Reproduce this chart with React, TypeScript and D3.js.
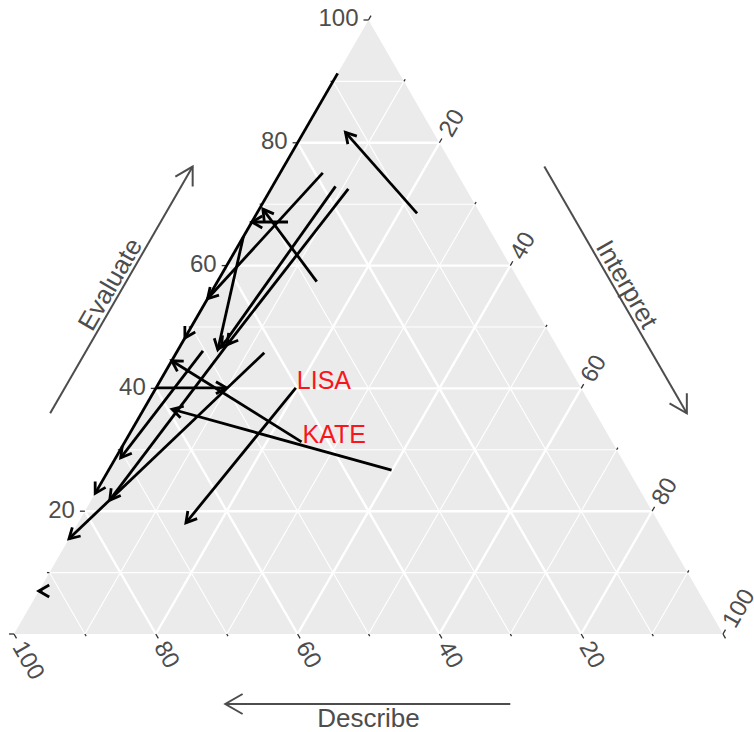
import React from "react";
import * as d3 from "d3";

const width = 754;
const height = 732;

// triangle frame
const left = 14;
const right = 723;
const bottom = 634;
const top = bottom - ((right - left) * Math.sqrt(3)) / 2;

// arrow segments, percent (Describe, Evaluate, Interpret)
const fromDescribe = [8.9, 8.7, 51.8, 27.8, 28.6, 18.9, 35.3, 18.2, 16.6, 46.4, 43.8, 59.9, 41.8, 50.3, 33.4, 40.2, 92.5];
const fromEvaluate = [68.5, 91.3, 48.2, 67.1, 57.4, 75.1, 64.7, 72.9, 72.5, 47.1, 31.3, 40.1, 45.8, 46.1, 26.7, 40.1, 7.0];
const fromInterpret = [22.6, 0, 0, 5.1, 14.0, 6.0, 0, 8.9, 10.9, 6.5, 24.9, 0, 12.4, 3.6, 39.9, 19.7, 0.5];
const toDescribe = [12.4, 51.8, 77.1, 32.9, 30.3, 45.4, 48.1, 47.4, 46.4, 75.6, 55.5, 50.0, 84.5, 70.6, 59.4, 66.7, 93.0];
const toEvaluate = [81.7, 48.2, 22.9, 67.1, 69.2, 54.6, 46.3, 46.7, 47.1, 21.8, 44.5, 40.1, 15.5, 28.7, 36.6, 18.1, 7.0];
const toInterpret = [5.9, 0, 0, 0, 0.5, 0, 5.6, 5.9, 6.5, 2.6, 0, 9.9, 0, 0.7, 4.0, 15.2, 0];

// point labels
const labelText = ["LISA", "KATE"];
const labelDescribe = [40.2, 43.8];
const labelEvaluate = [40.1, 31.3];
const labelInterpret = [19.7, 24.9];

const gridValues = [10, 20, 30, 40, 50, 60, 70, 80, 90];
const tickValues = [0, 10, 20, 30, 40, 50, 60, 70, 80, 90, 100];
const tickLabels = [20, 40, 60, 80, 100];

const xScale = d3.scaleLinear().domain([0, 100]).range([left, right]);
const yScale = d3.scaleLinear().domain([0, 100]).range([bottom, top]);

const pt = (d: number, e: number, i: number): [number, number] => {
    const s = d + e + i;
    const ee = (e * 100) / s;
    const ii = (i * 100) / s;
    return [xScale(ii + ee / 2), yScale(ee)];
};

const font = "'Liberation Sans', Arial, Helvetica, sans-serif";
const textColor = "#4d4d4d";
const s3 = Math.sqrt(3) / 2;

const arrowHead = (x1: number, y1: number, x2: number, y2: number, len: number) => {
    const a = Math.atan2(y2 - y1, x2 - x1);
    const w = Math.PI / 6;
    const p1 = [x2 - len * Math.cos(a - w), y2 - len * Math.sin(a - w)];
    const p2 = [x2 - len * Math.cos(a + w), y2 - len * Math.sin(a + w)];
    return `M${p1[0]},${p1[1]}L${x2},${y2}L${p2[0]},${p2[1]}`;
};

const App = () => {
    const [tx, ty] = pt(0, 100, 0);
    const [lx, ly] = pt(100, 0, 0);
    const [rx, ry] = pt(0, 0, 100);

    // axis arrows along the edges, offset outward
    const edgePoint = (a: [number, number], b: [number, number], t: number, nx: number, ny: number, off: number) => [
        a[0] + (b[0] - a[0]) * t + nx * off,
        a[1] + (b[1] - a[1]) * t + ny * off,
    ];
    const evA = edgePoint([lx, ly], [tx, ty], 0.295, -s3, -0.5, 79);
    const evB = edgePoint([lx, ly], [tx, ty], 0.697, -s3, -0.5, 79);
    const inA = edgePoint([tx, ty], [rx, ry], 0.303, s3, -0.5, 79);
    const inB = edgePoint([tx, ty], [rx, ry], 0.705, s3, -0.5, 79);
    const deA = edgePoint([lx, ly], [rx, ry], 0.7, 0, 1, 70);
    const deB = edgePoint([lx, ly], [rx, ry], 0.298, 0, 1, 70);
    const evT = edgePoint([lx, ly], [tx, ty], 0.495, -s3, -0.5, 83);
    const inT = edgePoint([tx, ty], [rx, ry], 0.505, s3, -0.5, 83);

    return (
        <svg width={width} height={height} style={{ position: "absolute", left: 0, top: 0 }}>
            <rect width={width} height={height} fill="white" />
            <path d={`M${lx},${ly}L${tx},${ty}L${rx},${ry}Z`} fill="#ebebeb" />

            {gridValues.map((v) => {
                const major = v % 20 === 0;
                const sw = major ? 2.4 : 1.1;
                const e1 = pt(100 - v, v, 0), e2 = pt(0, v, 100 - v);
                const d1 = pt(v, 0, 100 - v), d2 = pt(v, 100 - v, 0);
                const i1 = pt(100 - v, 0, v), i2 = pt(0, 100 - v, v);
                return (
                    <g key={v} stroke="white" strokeWidth={sw}>
                        <line x1={e1[0]} y1={e1[1]} x2={e2[0]} y2={e2[1]} />
                        <line x1={d1[0]} y1={d1[1]} x2={d2[0]} y2={d2[1]} />
                        <line x1={i1[0]} y1={i1[1]} x2={i2[0]} y2={i2[1]} />
                    </g>
                );
            })}

            {tickValues.map((v) => {
                const len = v % 20 === 0 ? 5 : 2.5;
                const e = pt(100 - v, v, 0);
                const d = pt(v, 0, 100 - v);
                const i = pt(0, 100 - v, v);
                return (
                    <g key={v} stroke="#333333" strokeWidth={1.3}>
                        <line x1={e[0]} y1={e[1]} x2={e[0] - len} y2={e[1]} />
                        <line x1={d[0]} y1={d[1]} x2={d[0] + 0.5 * len} y2={d[1] + s3 * len} />
                        <line x1={i[0]} y1={i[1]} x2={i[0] + 0.5 * len} y2={i[1] - s3 * len} />
                    </g>
                );
            })}

            {tickLabels.map((v) => {
                const e = pt(100 - v, v, 0);
                const d = pt(v, 0, 100 - v);
                const i = pt(0, 100 - v, v);
                const off = 10;
                return (
                    <g key={v} fill={textColor} fontFamily={font} fontSize={24}>
                        <text x={e[0] - off} y={e[1] - 2} textAnchor="end" dominantBaseline="central">
                            {v}
                        </text>
                        <text
                            transform={`translate(${d[0] + 0.5 * off},${d[1] + s3 * off}) rotate(60)`}
                            textAnchor="start"
                            dominantBaseline="central"
                        >
                            {v}
                        </text>
                        <text
                            transform={`translate(${i[0] + 0.5 * off},${i[1] - s3 * off}) rotate(-60)`}
                            textAnchor="start"
                            dominantBaseline="central"
                        >
                            {v}
                        </text>
                    </g>
                );
            })}

            {fromDescribe.map((_, k) => {
                const [x1, y1] = pt(fromDescribe[k], fromEvaluate[k], fromInterpret[k]);
                const [x2, y2] = pt(toDescribe[k], toEvaluate[k], toInterpret[k]);
                return (
                    <g key={k} stroke="black" strokeWidth={2.8} fill="none">
                        <line x1={x1} y1={y1} x2={x2} y2={y2} />
                        <path d={arrowHead(x1, y1, x2, y2, 12)} />
                    </g>
                );
            })}

            {labelText.map((t, k) => {
                const [x, y] = pt(labelDescribe[k], labelEvaluate[k], labelInterpret[k]);
                return (
                    <text key={t} x={x + 1} y={y + 1} fill="#f8161c" fontFamily={font} fontSize={25}>
                        {t}
                    </text>
                );
            })}

            <g stroke="#4d4d4d" strokeWidth={2} fill="none">
                <line x1={evA[0]} y1={evA[1]} x2={evB[0]} y2={evB[1]} />
                <path d={arrowHead(evA[0], evA[1], evB[0], evB[1], 20)} />
                <line x1={inA[0]} y1={inA[1]} x2={inB[0]} y2={inB[1]} />
                <path d={arrowHead(inA[0], inA[1], inB[0], inB[1], 20)} />
                <line x1={deA[0]} y1={deA[1]} x2={deB[0]} y2={deB[1]} />
                <path d={arrowHead(deA[0], deA[1], deB[0], deB[1], 20)} />
            </g>

            <g fill={textColor} fontFamily={font} fontSize={26} textAnchor="middle">
                <text transform={`translate(${evT[0]},${evT[1]}) rotate(-60)`}>Evaluate</text>
                <text transform={`translate(${inT[0]},${inT[1]}) rotate(60)`}>Interpret</text>
                <text x={(left + right) / 2} y={727}>
                    Describe
                </text>
            </g>
        </svg>
    );
};

export default App;
